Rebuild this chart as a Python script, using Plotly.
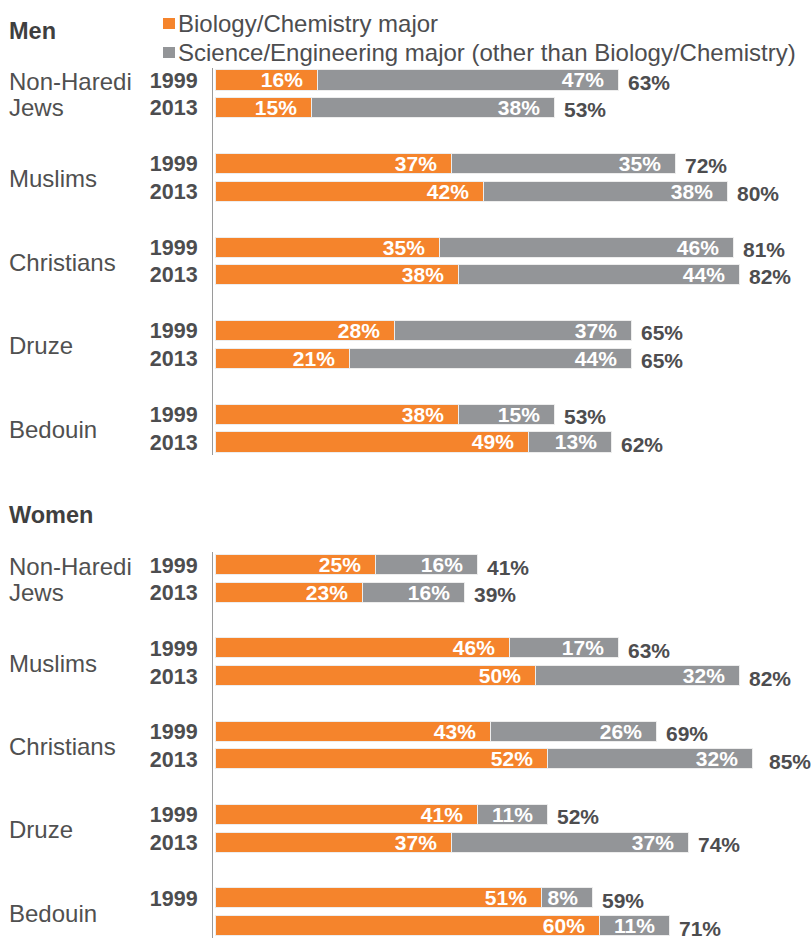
import plotly.graph_objects as go

group_lines = [["Non-Haredi", "Jews"], ["Muslims"], ["Christians"], ["Druze"], ["Bedouin"]]
years = ["1999", "2013"]
series_names = ["Biology/Chemistry major",
                "Science/Engineering major (other than Biology/Chemistry)"]

men_bio = [16, 15, 37, 42, 35, 38, 28, 21, 38, 49]
men_sci = [47, 38, 35, 38, 46, 44, 37, 44, 15, 13]
men_total = [63, 53, 72, 80, 81, 82, 65, 65, 53, 62]

women_bio = [25, 23, 46, 50, 43, 52, 41, 37, 51, 60]
women_sci = [16, 16, 17, 32, 26, 32, 11, 37, 8, 11]
women_total = [41, 39, 63, 82, 69, 85, 52, 74, 59, 71]

ORANGE = "#F5842C"
GRAY = "#939598"
TXT = "#4D4D4F"
FONT = "Liberation Sans, Arial, sans-serif"

W, H = 811, 938
L = 213
PW = W - L
PX_PER = 6.40
x0 = -(215.5 - L) / PX_PER
x1 = x0 + PW / PX_PER
ROW_PX = 27.8

pos = [3 * g + k for g in range(len(group_lines)) for k in range(len(years))]
ticktext = [y for _ in group_lines for y in years]

fig = go.Figure()
NB = "\u00a0\u00a0"


def add_bars(vals, color, name, yax):
    fig.add_trace(go.Bar(
        x=vals, y=pos, orientation="h", name=name, yaxis=yax,
        marker=dict(color=color, line=dict(color="#EDEDED", width=1)),
        width=0.72,
        text=[f"{v}%{NB}" for v in vals],
        textposition="inside", insidetextanchor="end",
        constraintext="none",
        textfont=dict(color="white", size=21, family=FONT, weight="bold"),
        showlegend=False, hoverinfo="skip",
    ))


add_bars(men_bio, ORANGE, series_names[0], "y")
add_bars(men_sci, GRAY, series_names[1], "y")
add_bars(women_bio, ORANGE, series_names[0], "y2")
add_bars(women_sci, GRAY, series_names[1], "y2")

annotations = []
for totals, yref in ((men_total, "y"), (women_total, "y2")):
    for t, p in zip(totals, pos):
        annotations.append(dict(
            x=t, y=p, xref="x", yref=yref, text=f"{t}%", showarrow=False,
            xanchor="left", yanchor="middle", xshift=7, yshift=-2,
            font=dict(size=21, color=TXT, family=FONT, weight="bold")))
    for g, lines in enumerate(group_lines):
        n = len(lines)
        for j, line in enumerate(lines):
            off = (j - (n - 1) / 2) * 26 / ROW_PX
            annotations.append(dict(
                x=(7 - L) / PW, y=3 * g + 0.5 + off, xref="paper", yref=yref,
                text=line, showarrow=False, xanchor="left", yanchor="middle",
                yshift=-1,
                font=dict(size=24, color="#505050", family=FONT)))

# panel titles
for label, cy in (("Men", 31), ("Women", 515)):
    annotations.append(dict(x=(7 - L) / PW, y=1 - cy / H, xref="paper", yref="paper",
                            text=label, showarrow=False, xanchor="left", yanchor="middle",
                            font=dict(size=23.5, color="#3F3F3F", family=FONT, weight="bold")))

# legend
shapes = []
for i, (name, col) in enumerate(zip(series_names, (ORANGE, GRAY))):
    cy = 23.5 + i * 29
    shapes.append(dict(type="rect", xref="paper", yref="paper",
                       x0=(163 - L) / PW, x1=(175 - L) / PW,
                       y0=1 - (cy - 5.5) / H, y1=1 - (cy + 5.5) / H,
                       fillcolor=col, line=dict(width=0)))
    annotations.append(dict(x=(176 - L) / PW, y=1 - cy / H, xref="paper", yref="paper",
                            text=name, showarrow=False, xanchor="left", yanchor="middle",
                            font=dict(size=24, color=TXT, family=FONT)))

yaxis_common = dict(
    tickmode="array", tickvals=pos, ticktext=ticktext,
    tickfont=dict(size=21.5, color=TXT, family=FONT, weight="bold"),
    showgrid=False, zeroline=False, showline=True, linecolor="#9A9A9A",
    linewidth=1, ticks="", ticklabelstandoff=10, fixedrange=True,
)

fig.update_layout(
    width=W, height=H, barmode="stack", bargap=0,
    margin=dict(l=L, r=0, t=0, b=0),
    paper_bgcolor="white", plot_bgcolor="white",
    xaxis=dict(range=[x0, x1], visible=False, anchor="y2", fixedrange=True),
    yaxis=dict(domain=[1 - 455 / H, 1 - 67.5 / H], range=[13.467, -0.449],
               anchor="x", **yaxis_common),
    yaxis2=dict(domain=[0, 1 - 552 / H], range=[13.432, -0.468],
                anchor="x", **yaxis_common),
    annotations=annotations, shapes=shapes,
    font=dict(family=FONT, color=TXT),
)

fig.write_html("out.html", config={"displayModeBar": False},
               post_script="document.body.style.margin='0';")
